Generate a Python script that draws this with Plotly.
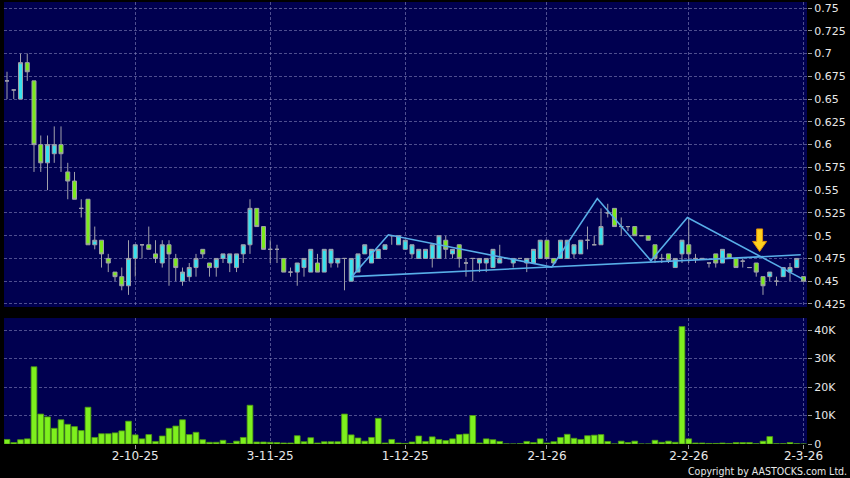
import plotly.graph_objects as go

# ---------------- data ----------------
opens = [0.67, 0.66, 0.65, 0.69, 0.67, 0.60, 0.58, 0.59, 0.60, 0.57,
         0.56, 0.53, 0.54, 0.49, 0.495, 0.475, 0.46, 0.455, 0.445, 0.475,
         0.49, 0.49, 0.48, 0.47, 0.49, 0.475, 0.45, 0.455, 0.465, 0.485,
         0.47, 0.465, 0.475, 0.47, 0.465, 0.48, 0.49, 0.53, 0.51, 0.485,
         0.485, 0.475, 0.46, 0.46, 0.465, 0.46, 0.47, 0.46, 0.47, 0.47,
         0.475, 0.45, 0.46, 0.48, 0.47, 0.475, 0.485, 0.50, 0.49, 0.485,
         0.48, 0.475, 0.475, 0.475, 0.475, 0.495, 0.48, 0.49, 0.47, 0.475,
         0.47, 0.47, 0.465, 0.47, 0.475, 0.47, 0.475, 0.47, 0.47, 0.475,
         0.495, 0.475, 0.475, 0.475, 0.48, 0.48, 0.495, 0.49, 0.49, 0.525,
         0.53, 0.51, 0.51, 0.51, 0.50, 0.50, 0.49, 0.475, 0.48, 0.465,
         0.48, 0.49, 0.475, 0.475, 0.47, 0.48, 0.47, 0.48, 0.475, 0.472,
         0.465, 0.47, 0.455, 0.455, 0.45, 0.455, 0.46, 0.465, 0.455]
highs = [0.68, 0.66, 0.70, 0.70, 0.67, 0.61, 0.61, 0.62, 0.62, 0.58,
         0.57, 0.54, 0.54, 0.51, 0.495, 0.48, 0.46, 0.465, 0.495, 0.49,
         0.49, 0.51, 0.495, 0.495, 0.495, 0.48, 0.465, 0.47, 0.48, 0.485,
         0.47, 0.475, 0.48, 0.48, 0.48, 0.49, 0.54, 0.53, 0.51, 0.495,
         0.49, 0.475, 0.465, 0.47, 0.475, 0.485, 0.48, 0.485, 0.485, 0.475,
         0.475, 0.475, 0.48, 0.49, 0.485, 0.485, 0.49, 0.50, 0.50, 0.495,
         0.49, 0.485, 0.485, 0.49, 0.50, 0.50, 0.485, 0.49, 0.475, 0.475,
         0.475, 0.475, 0.485, 0.49, 0.475, 0.475, 0.475, 0.475, 0.485, 0.495,
         0.495, 0.475, 0.495, 0.495, 0.49, 0.495, 0.51, 0.50, 0.53, 0.535,
         0.53, 0.52, 0.51, 0.51, 0.50, 0.50, 0.49, 0.48, 0.48, 0.475,
         0.495, 0.52, 0.48, 0.475, 0.47, 0.48, 0.485, 0.48, 0.475, 0.475,
         0.465, 0.47, 0.455, 0.46, 0.455, 0.465, 0.47, 0.475, 0.455]
lows = [0.65, 0.65, 0.65, 0.67, 0.57, 0.57, 0.55, 0.58, 0.57, 0.54,
        0.54, 0.52, 0.49, 0.485, 0.465, 0.46, 0.45, 0.44, 0.435, 0.455,
        0.475, 0.485, 0.47, 0.465, 0.445, 0.45, 0.445, 0.45, 0.455, 0.475,
        0.455, 0.455, 0.47, 0.46, 0.46, 0.47, 0.48, 0.51, 0.485, 0.47,
        0.47, 0.46, 0.455, 0.445, 0.455, 0.46, 0.46, 0.46, 0.465, 0.465,
        0.44, 0.45, 0.46, 0.48, 0.47, 0.475, 0.485, 0.49, 0.49, 0.485,
        0.475, 0.475, 0.475, 0.465, 0.475, 0.475, 0.475, 0.465, 0.455, 0.45,
        0.46, 0.46, 0.465, 0.47, 0.475, 0.465, 0.475, 0.46, 0.47, 0.475,
        0.475, 0.47, 0.475, 0.475, 0.475, 0.48, 0.485, 0.49, 0.49, 0.52,
        0.51, 0.50, 0.505, 0.50, 0.50, 0.495, 0.47, 0.47, 0.47, 0.465,
        0.47, 0.47, 0.47, 0.475, 0.465, 0.465, 0.47, 0.475, 0.465, 0.465,
        0.465, 0.455, 0.435, 0.45, 0.445, 0.455, 0.45, 0.465, 0.45]
closes = [0.67, 0.66, 0.69, 0.68, 0.60, 0.58, 0.60, 0.60, 0.59, 0.56,
          0.54, 0.53, 0.49, 0.495, 0.48, 0.47, 0.455, 0.445, 0.475, 0.49,
          0.49, 0.485, 0.475, 0.49, 0.48, 0.465, 0.46, 0.465, 0.475, 0.48,
          0.465, 0.475, 0.48, 0.48, 0.48, 0.49, 0.53, 0.51, 0.485, 0.485,
          0.485, 0.46, 0.46, 0.47, 0.475, 0.485, 0.46, 0.485, 0.485, 0.475,
          0.475, 0.475, 0.48, 0.49, 0.485, 0.485, 0.49, 0.50, 0.50, 0.495,
          0.49, 0.485, 0.485, 0.49, 0.50, 0.485, 0.485, 0.475, 0.47, 0.475,
          0.475, 0.475, 0.485, 0.475, 0.475, 0.475, 0.475, 0.475, 0.485, 0.495,
          0.475, 0.47, 0.495, 0.495, 0.49, 0.495, 0.495, 0.49, 0.51, 0.525,
          0.51, 0.51, 0.51, 0.50, 0.50, 0.495, 0.475, 0.475, 0.473, 0.475,
          0.495, 0.48, 0.475, 0.475, 0.47, 0.47, 0.485, 0.475, 0.465, 0.472,
          0.465, 0.46, 0.445, 0.46, 0.45, 0.465, 0.465, 0.475, 0.45]
# volume in thousands of shares
volume_k = [1.6, 0.5, 1.5, 1.8, 27.1, 10.5, 9.5, 5.5, 8.5, 6.9,
            6.1, 4.7, 12.9, 2.3, 3.6, 3.6, 3.9, 4.6, 8.0, 3.2,
            1.8, 3.3, 0.9, 2.8, 5.5, 6.3, 8.5, 3.3, 4.1, 1.5,
            0.6, 0.6, 1.3, 0.2, 1.0, 2.3, 13.6, 0.7, 0.7, 0.6,
            0.5, 0.35, 0.35, 2.9, 0.8, 2.2, 0.35, 0.8, 0.8, 0.8,
            10.5, 3.2, 2.1, 1.0, 2.3, 9.0, 0.35, 1.6, 0.35, 0.2,
            0.7, 2.8, 0.9, 2.5, 1.6, 1.2, 1.8, 3.3, 3.5, 10.0,
            0.35, 1.8, 1.5, 0.9, 0.05, 0.0, 0.1, 0.9, 0.5, 1.8,
            0.35, 0.8, 2.3, 3.4, 2.0, 1.6, 2.9, 3.1, 3.3, 0.9,
            0.0, 1.0, 0.5, 1.0, 0.0, 0.0, 1.3, 0.6, 1.0, 0.6,
            41.2, 1.8, 0.35, 0.35, 0.2, 0.2, 0.35, 0.2, 0.5, 0.5,
            0.5, 0.1, 1.0, 2.6, 0.1, 0.1, 0.5, 0.1, 0.0]

date_tick_pos = [19, 39, 59, 80, 101, 118]
date_tick_text = ["2-10-25", "3-11-25", "1-12-25", "2-1-26", "2-2-26", "2-3-26"]

price_ticks = [0.75, 0.725, 0.7, 0.675, 0.65, 0.625, 0.6, 0.575, 0.55,
               0.525, 0.5, 0.475, 0.45, 0.425]
price_tick_text = ["0.75", "0.725", "0.7", "0.675", "0.65", "0.625", "0.6",
                   "0.575", "0.55", "0.525", "0.5", "0.475", "0.45", "0.425"]
vol_ticks = [0, 10000, 20000, 30000, 40000]
vol_tick_text = ["0", "10K", "20K", "30K", "40K"]

# drawn trend lines (index, price)
zigzag_x = [51.07, 56.5, 80.7, 87.45, 95.4, 100.8, 117.9]
zigzag_y = [0.455, 0.501, 0.4655, 0.5408, 0.4725, 0.520, 0.4523]
support_x = [51.07, 117.6]
support_y = [0.455, 0.479]

# signal arrow (index, top price, tip price)
arrow_x = 111.5
arrow_top = 0.5074
arrow_neck = 0.4937
arrow_tip = 0.4827

# ---------------- styling ----------------
NAVY = "#000050"
GRID = "rgba(130,130,185,0.6)"
CYAN = "#36E2EF"
GREEN = "#7BEA1C"
WICK = "#A0A0AA"
TXT = "#E8E8E8"
FONT = "DejaVu Sans"

idx = list(range(len(opens)))
volume = [v * 1000 for v in volume_k]

fig = go.Figure()

fig.add_trace(go.Candlestick(
    x=idx, open=opens, high=highs, low=lows, close=closes,
    xaxis="x", yaxis="y",
    increasing=dict(fillcolor=CYAN, line=dict(color=WICK, width=1)),
    decreasing=dict(fillcolor=GREEN, line=dict(color=WICK, width=1)),
    whiskerwidth=0, showlegend=False, hoverinfo="skip",
))

fig.add_trace(go.Scatter(
    x=support_x, y=support_y, mode="lines", xaxis="x", yaxis="y",
    line=dict(color="#58AEE8", width=1.6), showlegend=False, hoverinfo="skip",
))
fig.add_trace(go.Scatter(
    x=zigzag_x, y=zigzag_y, mode="lines", xaxis="x", yaxis="y",
    line=dict(color="#58AEE8", width=1.6), showlegend=False, hoverinfo="skip",
))

fig.add_trace(go.Bar(
    x=idx, y=volume, xaxis="x2", yaxis="y2",
    marker=dict(color="#7EF01E", line=dict(color="#4E9A12", width=0.8)),
    showlegend=False, hoverinfo="skip",
))

shaft_hw = 0.44
head_hw = 1.04
arrow_path = (
    f"M {arrow_x - shaft_hw},{arrow_top} L {arrow_x + shaft_hw},{arrow_top} "
    f"L {arrow_x + shaft_hw},{arrow_neck} L {arrow_x + head_hw},{arrow_neck} "
    f"L {arrow_x},{arrow_tip} L {arrow_x - head_hw},{arrow_neck} "
    f"L {arrow_x - shaft_hw},{arrow_neck} Z"
)

x_range = [-0.444, 118.52]

axis_common = dict(
    showgrid=True, gridcolor=GRID, griddash="3px,2px", gridwidth=1,
    zeroline=False, showline=False, automargin=False,
)

fig.update_layout(
    template="none",
    width=850, height=478,
    margin=dict(l=4, r=43, t=2, b=34, autoexpand=False),
    paper_bgcolor="#000000",
    plot_bgcolor=NAVY,
    font=dict(family=FONT, color=TXT, size=11),
    boxgap=0.15,
    bargap=0.15,
    showlegend=False,
    xaxis=dict(
        domain=[0, 1], anchor="y", range=x_range,
        tickmode="array", tickvals=date_tick_pos, ticktext=date_tick_text,
        showticklabels=False, ticks="",
        rangeslider=dict(visible=False),
        **axis_common,
    ),
    yaxis=dict(
        domain=[0.31, 1], anchor="x", side="right",
        range=[0.4217, 0.7566],
        tickmode="array", tickvals=price_ticks, ticktext=price_tick_text,
        ticks="outside", ticklen=4, tickcolor="#9A9A9A", tickwidth=1,
        tickfont=dict(family=FONT, size=11, color=TXT),
        **axis_common,
    ),
    xaxis2=dict(
        domain=[0, 1], anchor="y2", range=x_range,
        tickmode="array", tickvals=date_tick_pos, ticktext=date_tick_text,
        ticks="outside", ticklen=4, tickcolor="#9A9A9A", tickwidth=1,
        ticklabelstandoff=-3,
        tickfont=dict(family=FONT, size=12, color=TXT),
        **axis_common,
    ),
    yaxis2=dict(
        domain=[0, 0.285], anchor="x2", side="right",
        range=[0, 44200],
        tickmode="array", tickvals=vol_ticks, ticktext=vol_tick_text,
        ticks="outside", ticklen=4, tickcolor="#9A9A9A", tickwidth=1,
        tickfont=dict(family=FONT, size=11, color=TXT),
        **axis_common,
    ),
    shapes=[dict(
        type="path", xref="x", yref="y", path=arrow_path,
        fillcolor="#FFD21E", line=dict(color="#E0900A", width=1),
        layer="above",
    )],
    annotations=[dict(
        text="Copyright by AASTOCKS.com Ltd.", xref="paper", yref="paper",
        x=1.0523, y=-0.0622, xanchor="right", yanchor="middle",
        showarrow=False,
        font=dict(family="DejaVu Sans Condensed, DejaVu Sans", size=10.5,
                  color=TXT),
    )],
)

fig.write_html(
    "out.html",
    config={"displayModeBar": False},
    post_script=(
        "document.body.style.margin='0';"
        "document.body.style.overflow='hidden';"
        "document.body.style.background='#000';"
    ),
)
